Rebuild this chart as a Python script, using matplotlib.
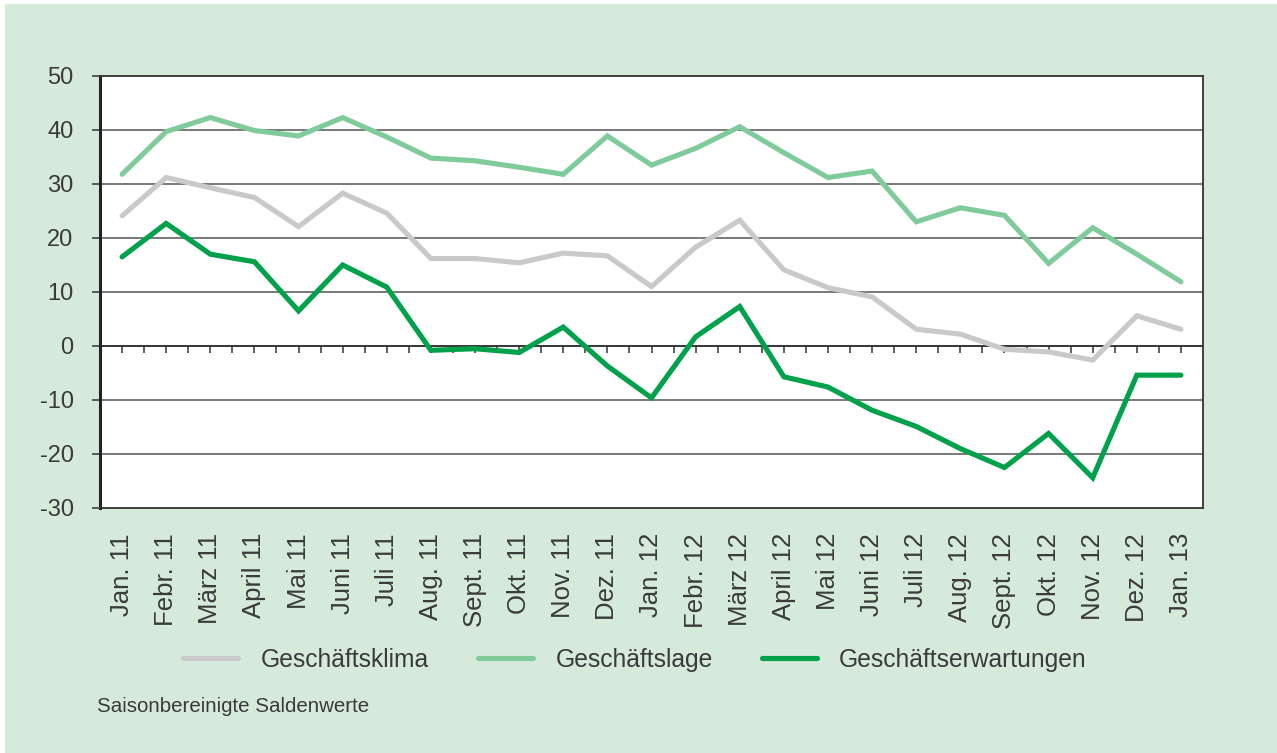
import numpy as np
import matplotlib
matplotlib.use("Agg")
import matplotlib.pyplot as plt
from matplotlib.patches import Rectangle

plt.rcParams['font.family'] = ['Liberation Sans', 'DejaVu Sans']
plt.rcParams['axes.unicode_minus'] = False

# Monate Jan. 11 bis Jan. 13
months = ["Jan. 11", "Febr. 11", "März 11", "April 11", "Mai 11", "Juni 11",
          "Juli 11", "Aug. 11", "Sept. 11", "Okt. 11", "Nov. 11", "Dez. 11",
          "Jan. 12", "Febr. 12", "März 12", "April 12", "Mai 12", "Juni 12",
          "Juli 12", "Aug. 12", "Sept. 12", "Okt. 12", "Nov. 12", "Dez. 12",
          "Jan. 13"]

klima = [24.1, 31.2, 29.3, 27.5, 22.1, 28.3, 24.6, 16.2, 16.2, 15.4, 17.2, 16.7,
         11.0, 18.3, 23.3, 14.1, 10.8, 9.1, 3.1, 2.2, -0.6, -1.1, -2.6, 5.6, 3.1]
lage = [31.8, 39.7, 42.3, 39.9, 38.9, 42.3, 38.7, 34.8, 34.3, 33.1, 31.8, 38.9,
        33.5, 36.6, 40.6, 35.8, 31.2, 32.4, 23.0, 25.6, 24.2, 15.3, 21.9, 17.0, 11.9]
erwartungen = [16.5, 22.7, 17.0, 15.6, 6.5, 15.0, 10.9, -0.8, -0.5, -1.2, 3.5, -3.7,
               -9.6, 1.7, 7.3, -5.7, -7.6, -11.9, -14.9, -19.0, -22.5, -16.2, -24.4,
               -5.4, -5.4]

text_col = "#3a3a3a"
bg = "#d6eadc"

fig = plt.figure(figsize=(12.77, 7.53), dpi=100, facecolor="white")
fig.patches.append(Rectangle((5 / 1277, 0), 1, 1 - 4 / 753, transform=fig.transFigure,
                             facecolor=bg, edgecolor="none", zorder=-10))

ax = fig.add_axes([100 / 1277, 1 - 508 / 753, 1103 / 1277, 432 / 753])
ax.set_facecolor("white")

x = np.arange(len(months))

ax.set_ylim(-30, 50)
ax.set_xlim(-0.5, len(months) - 0.5)
ax.set_yticks(np.arange(-30, 51, 10))
for yv in np.arange(-20, 50, 10):
    ax.axhline(yv, color="#555555", lw=1.1, zorder=1)
ax.axhline(0, color="#333333", lw=1.3, zorder=1)
# kleine Striche an der Nulllinie
ax.vlines(np.arange(0, len(months) - 0.9, 0.5), -1.3, 0, color="#333333", lw=1.1, zorder=1)

ax.plot(x, klima, color="#c8c9cb", lw=3.7, solid_capstyle="round", solid_joinstyle="miter",
        label="Geschäftsklima", zorder=3)
ax.plot(x, lage, color="#80cb9c", lw=3.7, solid_capstyle="round", solid_joinstyle="miter",
        label="Geschäftslage", zorder=3)
ax.plot(x, erwartungen, color="#00a14b", lw=3.7, solid_capstyle="round", solid_joinstyle="miter",
        label="Geschäftserwartungen", zorder=4)

ax.set_xticks(x)
ax.set_xticklabels(months, rotation=90, fontsize=18.5, color=text_col, va="top", ha="center")
ax.tick_params(axis="x", length=0, pad=18)
ax.tick_params(axis="y", length=6, width=1.1, color="#333333", pad=13, labelsize=17,
               labelcolor=text_col)

for s in ["top", "right", "bottom"]:
    ax.spines[s].set_color("#333333")
    ax.spines[s].set_linewidth(1.3)
ax.spines["left"].set_color("#222222")
ax.spines["left"].set_linewidth(2.2)

fig.legend(loc="center", bbox_to_anchor=(635 / 1277, 1 - 660 / 753), ncol=3, frameon=False,
           fontsize=17.7, handlelength=2.25, handletextpad=0.9, columnspacing=2.0,
           labelcolor=text_col)

fig.text(97 / 1277, 1 - 707 / 753, "Saisonbereinigte Saldenwerte", fontsize=14.8,
         color=text_col, va="center", ha="left")

fig.savefig("out.png", dpi=100, facecolor=fig.get_facecolor())
